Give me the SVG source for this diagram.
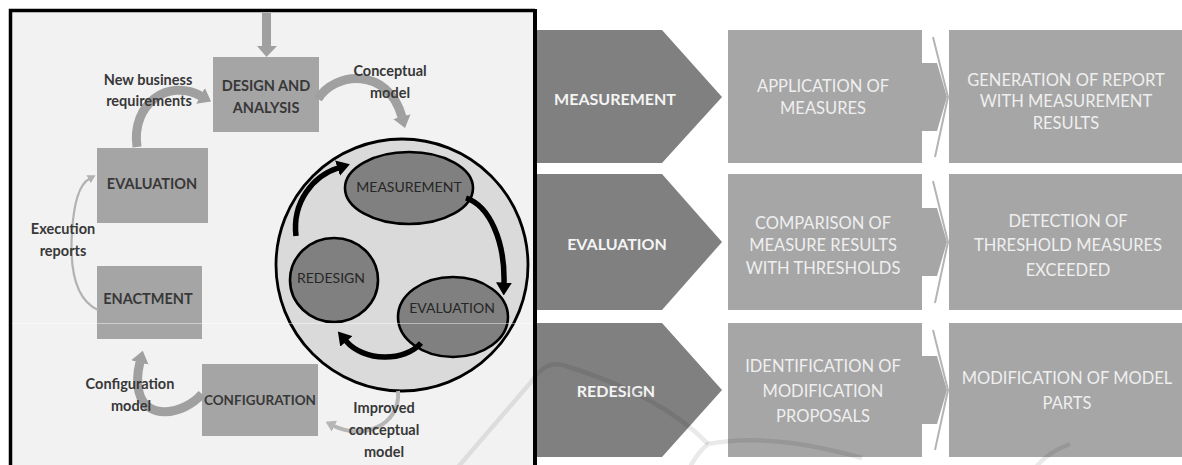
<svg xmlns="http://www.w3.org/2000/svg" width="1182" height="465" viewBox="0 0 1182 465">
  <style>
    .f{font-family:Lato,"Liberation Sans","DejaVu Sans",sans-serif;text-anchor:middle;dominant-baseline:central}
    .lbl{font-size:14.5px;font-weight:bold;fill:#383838}
    .box{fill:#a5a5a5}
    .ell{fill:#808080;stroke:#000;stroke-width:2.6}
    .etx{font-size:14px;fill:#262626}
    .gray{fill:none;stroke:#a0a0a0;stroke-width:9}
    .blk{fill:none;stroke:#000;stroke-width:5.5}
    .chev{fill:#808080}
    .step{fill:#a6a6a6}
    .ctx{font-size:16px;font-weight:bold;fill:#f4f4f4}
    .stx{font-size:16.5px;fill:#efefef}
    .wm{fill:none;stroke:#000;stroke-opacity:0.085;stroke-width:4.5}
  </style>
  <defs>
    <marker id="hg" viewBox="0 0 12 18" refX="0.5" refY="9" markerUnits="userSpaceOnUse" markerWidth="12" markerHeight="18" orient="auto">
      <path d="M0,0 L12,9 L0,18 z" fill="#a0a0a0"/>
    </marker>
    <marker id="hl" viewBox="0 0 10 12" refX="0.5" refY="6" markerUnits="userSpaceOnUse" markerWidth="10" markerHeight="12" orient="auto">
      <path d="M0,0 L10,6 L0,12 z" fill="#b6b6b6"/>
    </marker>
    <marker id="ht" viewBox="0 0 8 9" refX="0.5" refY="4.5" markerUnits="userSpaceOnUse" markerWidth="8" markerHeight="9" orient="auto">
      <path d="M0,0 L8,4.5 L0,9 z" fill="#b2b2b2"/>
    </marker>
    <marker id="hb" viewBox="0 0 13 16" refX="0.5" refY="8" markerUnits="userSpaceOnUse" markerWidth="13" markerHeight="16" orient="auto">
      <path d="M0,0 L13,8 L0,16 z" fill="#000"/>
    </marker>
  </defs>

  <!-- backgrounds -->
  <rect x="0" y="0" width="1182" height="465" fill="#fff"/>
  <rect x="11" y="11" width="523" height="454" fill="#f2f2f2"/>
  <!-- frame of the lifecycle panel -->
  <path d="M10.5 465 V10.5 H535" fill="none" stroke="#000" stroke-width="3.5"/>
  <rect x="533" y="9" width="4" height="456" fill="#000"/>

  <!-- lifecycle nodes -->
  <g id="design-analysis">
    <rect class="box" x="213" y="57" width="106" height="75"/>
    <text class="f lbl" x="266" y="85">DESIGN AND</text>
    <text class="f lbl" x="266" y="107">ANALYSIS</text>
  </g>
  <g id="evaluation">
    <rect class="box" x="97" y="148" width="111" height="75"/>
    <text class="f lbl" x="152" y="183">EVALUATION</text>
  </g>
  <g id="enactment">
    <rect class="box" x="97" y="266" width="105" height="73"/>
    <text class="f lbl" x="148" y="298">ENACTMENT</text>
  </g>
  <g id="configuration">
    <rect class="box" x="202" y="364" width="116" height="72"/>
    <text class="f lbl" x="260" y="400" style="font-size:13.5px">CONFIGURATION</text>
  </g>

  <!-- improvement cycle -->
  <g id="cycle">
    <circle cx="402" cy="265" r="126" fill="#dadada" stroke="#000" stroke-width="2.8"/>
    <g id="measurement">
      <ellipse class="ell" cx="409" cy="188" rx="64" ry="36"/>
      <text class="f etx" x="409" y="186">MEASUREMENT</text>
    </g>
    <g id="redesign">
      <ellipse class="ell" cx="334" cy="280" rx="44" ry="42"/>
      <text class="f etx" x="331" y="277">REDESIGN</text>
    </g>
    <g id="cycle-evaluation">
      <ellipse class="ell" cx="453" cy="317" rx="55" ry="40"/>
      <text class="f etx" x="452" y="307">EVALUATION</text>
    </g>
  </g>

  <!-- connectors -->
  <g id="connectors">
    <path d="M266.5 13 V46" stroke="#a0a0a0" stroke-width="9" fill="none"/>
    <path d="M257 46 H277 L266.5 57 z" fill="#a0a0a0"/>
    <path class="gray" d="M318 99 C334 72, 388 66, 402 117" marker-end="url(#hg)"/>
    <path class="gray" d="M137 147 C131 104, 168 78, 201 96" marker-end="url(#hg)"/>
    <path d="M98 310 C72 298, 70 262, 72 232 C74 200, 80 184, 89 179" fill="none" stroke="#b2b2b2" stroke-width="2.2" marker-end="url(#ht)"/>
    <path class="gray" d="M202 394 C182 416, 146 420, 139 392 C136 380, 138 370, 140 362" marker-end="url(#hg)"/>
    <path d="M398 391 C401 426, 362 440, 334 426" fill="none" stroke="#b6b6b6" stroke-width="4" marker-end="url(#hl)"/>
    <path class="blk" d="M296 236 C292 202, 313 176, 338 168" marker-end="url(#hb)"/>
    <path class="blk" d="M466 198 C490 206, 505 242, 504 283" marker-end="url(#hb)"/>
    <path class="blk" d="M421 343 C405 362, 364 362, 346 341" marker-end="url(#hb)"/>
  </g>

  <!-- connector labels -->
  <g id="labels">
    <text class="f lbl" x="148" y="79">New business</text>
    <text class="f lbl" x="149" y="100">requirements</text>
    <text class="f lbl" x="390" y="70">Conceptual</text>
    <text class="f lbl" x="390" y="92">model</text>
    <text class="f lbl" x="63" y="228">Execution</text>
    <text class="f lbl" x="63" y="250">reports</text>
    <text class="f lbl" x="130" y="383">Configuration</text>
    <text class="f lbl" x="131" y="405">model</text>
    <text class="f lbl" x="384" y="407">Improved</text>
    <text class="f lbl" x="384" y="429">conceptual</text>
    <text class="f lbl" x="384" y="451">model</text>
  </g>

  <!-- faint seam across the lifecycle panel -->
  <line x1="12" y1="323.5" x2="533" y2="323.5" stroke="#fff" stroke-opacity="0.45" stroke-width="1"/>

  <!-- activity table -->
  <g id="row-measurement">
    <polygon class="chev" points="537,30 662,30 722,97 662,163 537,163"/>
    <text class="f ctx" x="615" y="98">MEASUREMENT</text>
    <rect class="step" x="728" y="30" width="194" height="133"/>
    <polygon class="step" points="922,63 937,63 947,97 937,131 922,131"/>
    <polyline points="933,37 948,97 935,157" fill="none" stroke="#b4b4b4" stroke-width="2"/>
    <text class="f stx" x="823" y="86">APPLICATION OF</text>
    <text class="f stx" x="823" y="108">MEASURES</text>
    <rect class="step" x="949" y="30" width="233" height="133"/>
    <text class="f stx" x="1066" y="80">GENERATION OF REPORT</text>
    <text class="f stx" x="1066" y="101">WITH MEASUREMENT</text>
    <text class="f stx" x="1066" y="123">RESULTS</text>
  </g>
  <g id="row-evaluation">
    <polygon class="chev" points="537,174 662,174 722,242 662,310 537,310"/>
    <text class="f ctx" x="617" y="243">EVALUATION</text>
    <rect class="step" x="728" y="174" width="194" height="136"/>
    <polygon class="step" points="922,208 937,208 947,242 937,276 922,276"/>
    <polyline points="933,181 948,242 935,303" fill="none" stroke="#b4b4b4" stroke-width="2"/>
    <text class="f stx" x="823" y="223">COMPARISON OF</text>
    <text class="f stx" x="823" y="245">MEASURE RESULTS</text>
    <text class="f stx" x="823" y="268">WITH THRESHOLDS</text>
    <rect class="step" x="949" y="174" width="233" height="136"/>
    <text class="f stx" x="1068" y="221">DETECTION OF</text>
    <text class="f stx" x="1068" y="245">THRESHOLD MEASURES</text>
    <text class="f stx" x="1068" y="270">EXCEEDED</text>
  </g>
  <g id="row-redesign">
    <polygon class="chev" points="537,323 662,323 722,390 662,457 537,457"/>
    <text class="f ctx" x="616" y="390">REDESIGN</text>
    <rect class="step" x="728" y="323" width="194" height="134"/>
    <polygon class="step" points="922,356 937,356 947,390 937,424 922,424"/>
    <polyline points="933,330 948,390 935,450" fill="none" stroke="#b4b4b4" stroke-width="2"/>
    <text class="f stx" x="823" y="366">IDENTIFICATION OF</text>
    <text class="f stx" x="823" y="391">MODIFICATION</text>
    <text class="f stx" x="823" y="416">PROPOSALS</text>
    <rect class="step" x="949" y="323" width="233" height="134"/>
    <text class="f stx" x="1067" y="378">MODIFICATION OF MODEL</text>
    <text class="f stx" x="1067" y="403">PARTS</text>
  </g>

  <!-- faint background emblem strokes -->
  <g id="emblem">
    <path class="wm" d="M458 467 L532 381 Q546 359 566 366 Q662 396 708 444"/>
    <path class="wm" d="M690 467 Q698 452 708 444 Q770 432 862 458"/>
    <path class="wm" d="M1036 467 Q1048 452 1070 444"/>
  </g>
</svg>
